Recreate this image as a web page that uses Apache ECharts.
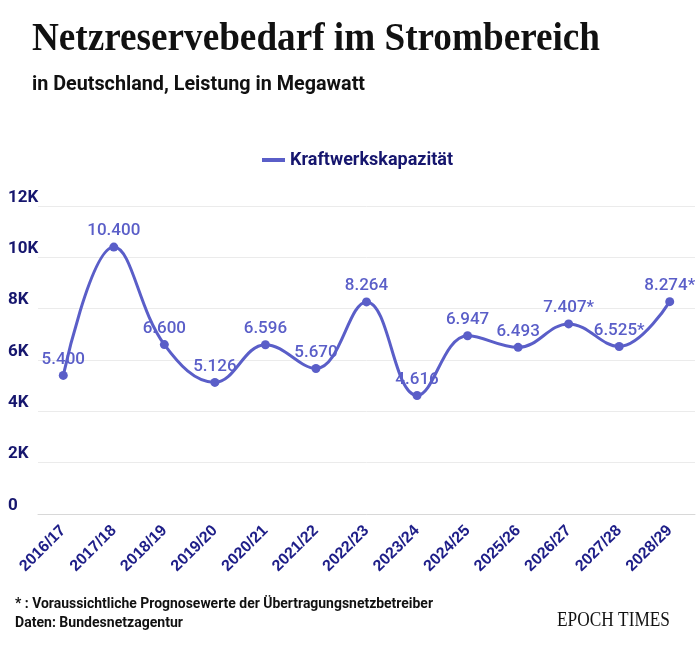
<!DOCTYPE html>
<html><head><meta charset="utf-8">
<script src="https://cdn.jsdelivr.net/npm/echarts@6/dist/echarts.min.js"></script>
<style>html,body{margin:0;padding:0;background:#fff}#c{width:700px;height:650px}</style>
</head><body><div id="c"></div>
<script>
const categories = ['2016/17','2017/18','2018/19','2019/20','2020/21','2021/22','2022/23','2023/24','2024/25','2025/26','2026/27','2027/28','2028/29'];
const values = [5400,10400,6600,5126,6596,5670,8264,4616,6947,6493,7407,6525,8274];
const valueLabels = ['5.400','10.400','6.600','5.126','6.596','5.670','8.264','4.616','6.947','6.493','7.407*','6.525*','8.274*'];
const yTicks = ['0','2K','4K','6K','8K','10K','12K'];
const seriesName = 'Kraftwerkskapazität';
const titleText = 'Netzreservebedarf im Strombereich';
const subtitleText = 'in Deutschland, Leistung in Megawatt';
const noteText = '* : Voraussichtliche Prognosewerte der Übertragungsnetzbetreiber';
const sourceText = 'Daten: Bundesnetzagentur';
const brandText = 'EPOCH TIMES';

const navy = '#16166e';
const lineColor = '#5a5ec8';
const sans = 'Roboto,"Noto Sans",sans-serif';
const serif = '"Liberation Serif","DejaVu Serif",serif';

const mctx = document.createElement('canvas').getContext('2d');
function fitText(text, font, x, y, targetW, color){
  mctx.font = font;
  const w = mctx.measureText(text).width;
  return {type:'text', x:x, y:y, scaleX: targetW / w, scaleY:1,
    style:{text:text, font:font, fill:color, textVerticalAlign:'top'}};
}

const chart = echarts.init(document.getElementById('c'), null, {renderer:'canvas'});
chart.setOption({
  animation:false,
  backgroundColor:'#fff',
  graphic:[
    fitText(titleText, 'bold 40px ' + serif, 32, 20, 568, '#111'),
    fitText(subtitleText, 'bold 20px ' + sans, 32, 75, 333, '#111'),
    fitText(noteText, 'bold 14px ' + sans, 15, 597, 418, '#111'),
    fitText(sourceText, 'bold 14px ' + sans, 15, 616, 168, '#111'),
    fitText(brandText, '20px ' + serif, 557, 611, 113, '#111')
  ],
  legend:{
    data:[seriesName], top:146, left:257,
    itemWidth:23, itemHeight:4, itemGap:10,
    icon:'rect',
    textStyle:{fontFamily:sans, fontWeight:'bold', fontSize:18, color:navy}
  },
  grid:{left:38, right:5, top:206, bottom:136},
  xAxis:{
    type:'category', data:categories, boundaryGap:true,
    axisLine:{show:true, lineStyle:{color:'#d8d8d8', width:1}},
    axisTick:{show:false},
    axisLabel:{rotate:45, margin:14, interval:0, fontFamily:'"Liberation Sans",Arial,sans-serif',
      fontWeight:'bold', fontSize:16, color:'#1e1e88'}
  },
  yAxis:{
    type:'value', min:0, max:12000, interval:2000,
    axisLine:{show:false}, axisTick:{show:false},
    splitLine:{lineStyle:{color:'#ebebeb', width:1}},
    axisLabel:{align:'left', margin:30, verticalAlign:'bottom', padding:[0,0,0,0],
      fontFamily:sans, fontWeight:'bold', fontSize:17, color:navy,
      formatter:function(v){return yTicks[Math.round(v/2000)];}}
  },
  series:[{
    name:seriesName, type:'line', smooth:0.4, data:values,
    symbol:'circle', symbolSize:9,
    lineStyle:{color:lineColor, width:3},
    itemStyle:{color:lineColor},
    label:{show:true, position:'top', distance:3,
      fontFamily:sans, fontWeight:500, fontSize:17, color:lineColor,
      formatter:function(p){return valueLabels[p.dataIndex];}}
  }]
});
</script></body></html>
